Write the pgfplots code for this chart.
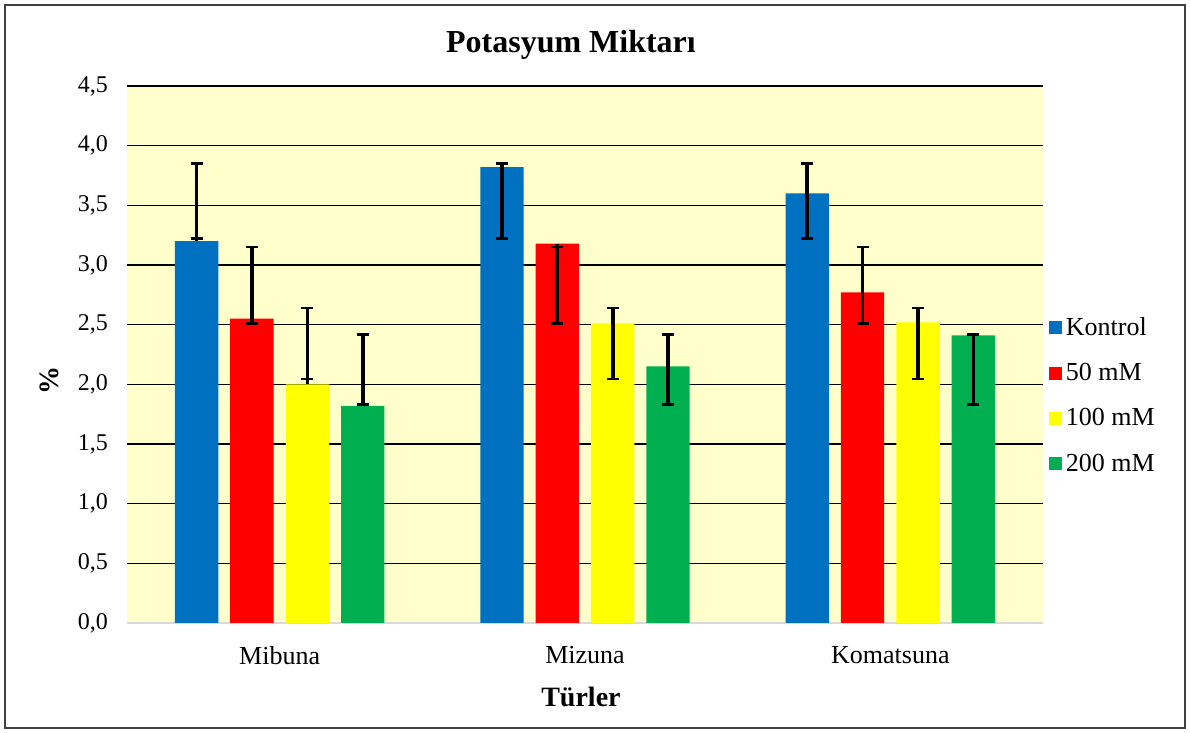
\documentclass[border=0pt]{standalone}
\usepackage{fontspec}
\setmainfont{Liberation Serif}
\usepackage{pgfplots}
\pgfplotsset{compat=1.18}

\definecolor{clrKontrol}{HTML}{0070C0}
\definecolor{clrFifty}{HTML}{FF0000}
\definecolor{clrHundred}{HTML}{FFFF00}
\definecolor{clrTwoHundred}{HTML}{00B050}
\definecolor{clrBack}{HTML}{FFFFCC}

\pgfplotsset{
    every error bar/.append style={/tikz/line width=1.8pt, /tikz/draw=black},
    errbar/.style={
        error bars/y dir=both,
        error bars/y explicit,
        error bars/error mark options={black, rotate=90, mark size=3pt, line width=1.4pt},
    },
}

\begin{document}
\begin{tikzpicture}
\useasboundingbox (-63.5pt,-55pt) rectangle (531.5pt,311.5pt);
\draw[line width=1pt, black!75] (-61pt,-52.5pt) rectangle (529pt,309pt);
\begin{axis}[
    scale only axis,
    width=458pt, height=268.5pt,
    xmin=-0.5, xmax=2.5,
    ymin=0, ymax=4.5,
    ybar, bar width=0.142, bar shift=0pt,
    axis background/.style={fill=clrBack},
    axis x line=bottom, axis y line=left,
    x axis line style={-, draw=black!15, line width=1pt},
    y axis line style={draw=none},
    major tick length=0pt,
    xtick={0,1,2},
    xticklabels={Mibuna,Mizuna,Komatsuna},
    ytick={0.5,1,1.5,2,2.5,3,3.5,4,4.5},
    extra y ticks={0},
    extra y tick style={grid=none},
    ymajorgrids,
    major grid style={black, line width=0.7pt},
    /pgf/number format/use comma,
    /pgf/number format/fixed,
    /pgf/number format/fixed zerofill,
    /pgf/number format/precision=1,
    /pgf/number format/assume math mode=true,
    yticklabel style={font=\fontsize{12}{14}\selectfont, xshift=-6pt},
    xticklabel style={font=\fontsize{13}{15}\selectfont, yshift=-8pt},
    title={Potasyum Miktarı},
    title style={font=\fontsize{16}{19}\selectfont\bfseries, at={(axis description cs:0.4847,1.040)}, anchor=base},
    xlabel={Türler},
    xlabel style={font=\fontsize{14}{17}\selectfont\bfseries, at={(axis description cs:0.4956,-0.156)}, anchor=base},
    ylabel={\%},
    ylabel style={font=\fontsize{14}{17}\selectfont\bfseries, at={(axis description cs:-0.0852,0.4507)}, anchor=center},
    legend style={
        draw=none, fill=none,
        at={(axis description cs:1.0065,0.4235)}, anchor=west,
        inner sep=0pt,
        font=\fontsize{13}{15}\selectfont,
        row sep=9pt,
        nodes={inner sep=1.75pt},
    },
    legend cell align=left,
    legend image code/.code={\fill[#1] (0pt,-3.25pt) rectangle (6.5pt,3.25pt);},
]
% Kontrol
\addplot[fill=clrKontrol, draw=none, errbar] coordinates {
    (-0.272,3.20) += (0,0.65) -= (0,-0.02)
    (0.728,3.82)  += (0,0.03) -= (0,0.60)
    (1.728,3.60)  += (0,0.25) -= (0,0.38)
};
% 50 mM
\addplot[fill=clrFifty, draw=none, errbar] coordinates {
    (-0.091,2.55) += (0,0.60)  -= (0,0.04)
    (0.909,3.18)  += (0,-0.03) -= (0,0.67)
    (1.909,2.77)  += (0,0.38)  -= (0,0.26)
};
% 100 mM
\addplot[fill=clrHundred, draw=none, errbar] coordinates {
    (0.091,2.00) += (0,0.64) -= (0,-0.045)
    (1.091,2.51) += (0,0.13) -= (0,0.465)
    (2.091,2.52) += (0,0.12) -= (0,0.475)
};
% 200 mM
\addplot[fill=clrTwoHundred, draw=none, errbar] coordinates {
    (0.272,1.82) += (0,0.60) -= (0,-0.01)
    (1.272,2.15) += (0,0.27) -= (0,0.32)
    (2.272,2.41) += (0,0.01) -= (0,0.58)
};
\legend{Kontrol, 50 mM, 100 mM, 200 mM}
\end{axis}
\end{tikzpicture}
\end{document}
